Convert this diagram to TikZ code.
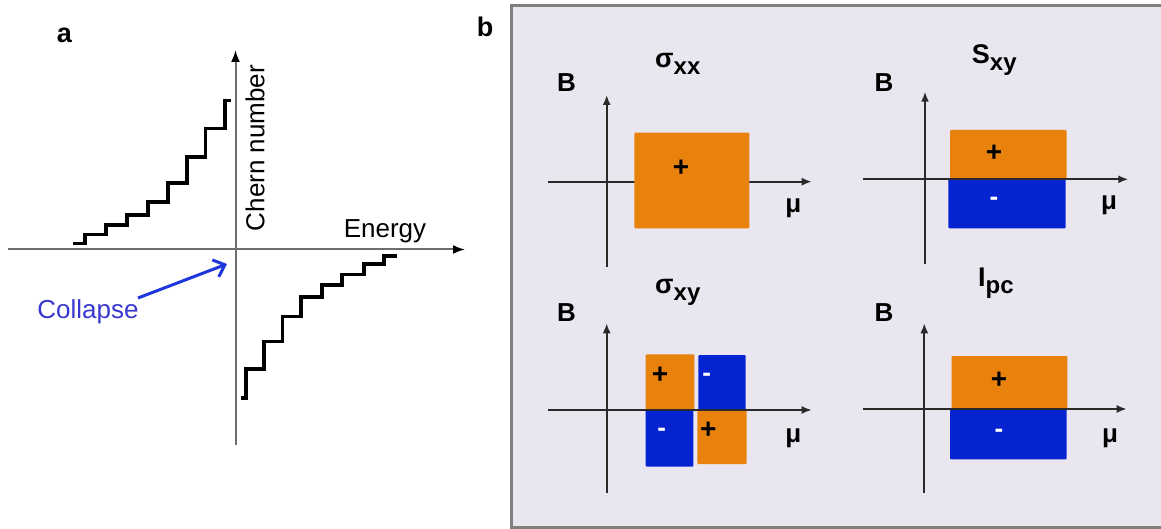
\documentclass[tikz,border=0pt]{standalone}
\usepackage{fontspec}
\setmainfont{Liberation Sans}
\usetikzlibrary{arrows.meta}
\definecolor{boxbg}{HTML}{E9E6F0}
\definecolor{boxedge}{HTML}{808080}
\definecolor{org}{HTML}{E8820C}
\definecolor{blu}{HTML}{0623D2}
\definecolor{axA}{HTML}{6E6E6E}
\definecolor{axB}{HTML}{2A2A2A}
\definecolor{arrblue}{HTML}{1E36DC}
\definecolor{txtblue}{HTML}{3838D0}
\newcommand\symlab[2]{#1\raisebox{-7pt}{\fontsize{24}{28}\selectfont #2}}
\begin{document}
\begin{tikzpicture}[x=1pt,y=-1pt,
  lab/.style={font=\fontsize{26}{30}\selectfont, inner sep=0pt},
  panlab/.style={font=\fontsize{27}{30}\selectfont\bfseries, inner sep=0pt},
  blab/.style={font=\fontsize{26}{30}\selectfont\bfseries, inner sep=0pt, anchor=base},
  symb/.style={font=\fontsize{27}{30}\selectfont\bfseries, inner sep=0pt, anchor=base west},
  plus/.style={font=\fontsize{28}{30}\selectfont\bfseries, inner sep=0pt, anchor=base},
  minus/.style={font=\fontsize{26}{30}\selectfont\bfseries, text=white, inner sep=0pt, anchor=base},
  axa/.style={draw=axA, line width=2pt, -{Latex[length=12pt,width=9pt,fill=black,color=black]}},
  axb/.style={draw=axB, line width=1.8pt, -{Latex[length=10pt,width=8pt]}},
  stair/.style={draw=black, line width=3.8pt, line join=miter},
  orect/.style={fill=org, rounded corners=1pt},
  brect/.style={fill=blu, rounded corners=1pt}]
\useasboundingbox (0,0) rectangle (1161,529);
% ---------------- panel a ----------------
\node[panlab] (la) at (64.5,35.5) {a};
\coordinate (axL) at (8,249.5);
\coordinate (axR) at (465,249.5);
\coordinate (ayB) at (235.5,445);
\coordinate (ayT) at (235.5,50);
\draw[axa] (axL) -- (axR);
\draw[axa] (ayB) -- (ayT);
\draw[stair] (73,243.5) -- (85,243.5) -- (85,234.5) -- (106,234.5) -- (106,225) -- (127,225) -- (127,215)
  -- (148.3,215) -- (148.3,202) -- (168,202) -- (168,183) -- (186.7,183) -- (186.7,157) -- (205.5,157)
  -- (205.5,128.5) -- (225,128.5) -- (225,100.5) -- (230.5,100.5);
\draw[stair] (240.5,398) -- (246,398) -- (246,369) -- (264,369) -- (264,341.5) -- (282.5,341.5) -- (282.5,316.5)
  -- (301.3,316.5) -- (301.3,297) -- (321.7,297) -- (321.7,285.3) -- (342.2,285.3) -- (342.2,274.5)
  -- (363.8,274.5) -- (363.8,263.8) -- (384.2,263.8) -- (384.2,256.2) -- (396.7,256.2);
\node[lab, rotate=90] (chern) at (255,148) {Chern number};
\node[lab] (energy) at (385,231) {Energy};
\node[lab, text=txtblue] (collapse) at (88,312) {Collapse};
\coordinate (cs) at (138,298);
\coordinate (ct) at (227,264);
\draw[draw=arrblue, line width=3pt, -{Straight Barb[length=10pt,width=18pt,line width=3pt]}] (cs) -- (ct);
% ---------------- panel b ----------------
\node[panlab] (lb) at (485,27) {b};
\fill[boxbg] (511.5,6) rectangle (1161,527);
\draw[draw=boxedge, line width=3pt] (1161,6) -- (511.5,6) -- (511.5,527) -- (1161,527);
% sigma_xx
\coordinate (a1L) at (548.3,181.7); \coordinate (a1R) at (811.7,181.7);
\coordinate (a1B) at (606.7,267);   \coordinate (a1T) at (606.7,95);
\draw[axb] (a1L) -- (a1R);
\draw[axb] (a1B) -- (a1T);
\fill[orect] (634.3,132.7) rectangle (749.3,228.3);
\node[plus] (p1) at (681,176.5) {+};
\node[blab] (B1) at (566.5,91.7) {B};
\node[symb] (s1) at (655,68) {\symlab{σ}{xx}};
\node[blab] (m1) at (793.3,213) {μ};
% S_xy
\fill[orect] (950,130) rectangle (1066.7,178.8);
\fill[brect] (948.3,178.8) rectangle (1065.7,228.3);
\coordinate (a2L) at (863.3,179.3); \coordinate (a2R) at (1128.3,179.3);
\coordinate (a2B) at (925,264);     \coordinate (a2T) at (925,91.7);
\draw[axb] (a2L) -- (a2R);
\draw[axb] (a2B) -- (a2T);
\node[plus] (p2) at (994,161.5) {+};
\node[minus] (n2) at (994,205.3) {-};
\node[blab] (B2) at (884,91.7) {B};
\node[symb] (s2) at (971.7,63.3) {\symlab{S}{xy}};
\node[blab] (m2) at (1109,210) {μ};
% sigma_xy
\fill[orect] (645.7,354.3) rectangle (694.3,410);
\fill[brect] (698.3,355) rectangle (745.7,410);
\fill[brect] (645.7,410) rectangle (693.3,466.7);
\fill[orect] (697.3,410) rectangle (746.7,464);
\coordinate (a3L) at (548.3,410); \coordinate (a3R) at (811.7,410);
\coordinate (a3B) at (606.7,493.3); \coordinate (a3T) at (606.7,323.3);
\draw[axb] (a3L) -- (a3R);
\draw[axb] (a3B) -- (a3T);
\node[plus] (p3a) at (660,383.3) {+};
\node[minus] (n3a) at (706.7,381) {-};
\node[minus] (n3b) at (661.7,436.3) {-};
\node[plus] (p3b) at (708.3,438.3) {+};
\node[blab] (B3) at (566.5,321.7) {B};
\node[symb] (s3) at (655,293) {\symlab{σ}{xy}};
\node[blab] (m3) at (793.3,442) {μ};
% I_pc
\fill[orect] (951.7,356) rectangle (1067.3,409);
\fill[brect] (950,409) rectangle (1066.7,459.3);
\coordinate (a4L) at (863.3,409); \coordinate (a4R) at (1126.7,409);
\coordinate (a4B) at (924.3,493.3); \coordinate (a4T) at (924.3,323.3);
\draw[axb] (a4L) -- (a4R);
\draw[axb] (a4B) -- (a4T);
\node[plus] (p4) at (999,388.3) {+};
\node[minus] (n4) at (999,437.7) {-};
\node[blab] (B4) at (884,321.7) {B};
\node[symb] (s4) at (978,286.7) {\symlab{I}{pc}};
\node[blab] (m4) at (1110,442) {μ};
\end{tikzpicture}
\end{document}
